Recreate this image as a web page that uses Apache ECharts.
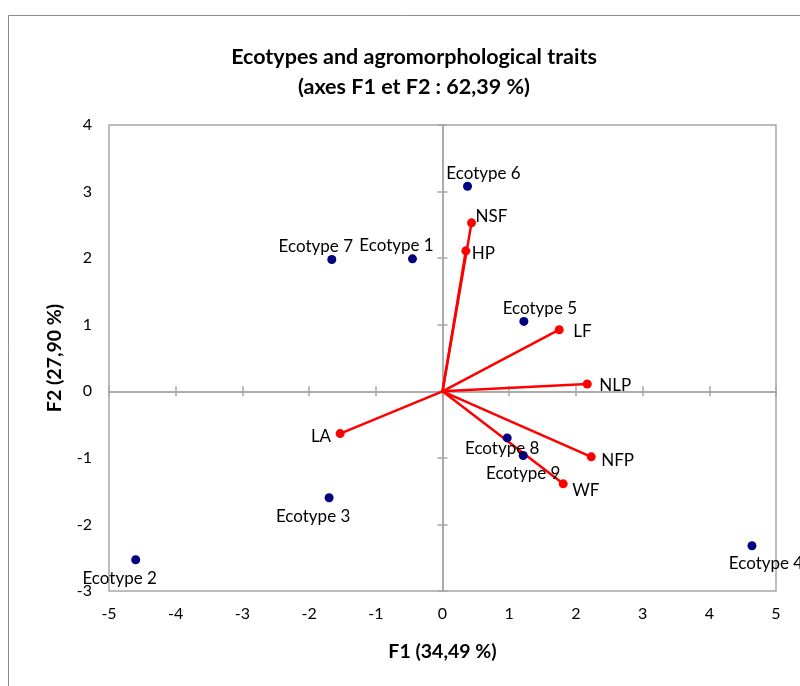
<!DOCTYPE html>
<html><head><meta charset="utf-8">
<script src="https://cdn.jsdelivr.net/npm/echarts@6/dist/echarts.min.js"></script>
<style>html,body{margin:0;padding:0;background:#fff}#c{width:800px;height:686px}</style>
</head><body><div id="c"></div>
<script>
// ---- data ----
const ecotypeNames = ['Ecotype 1','Ecotype 2','Ecotype 3','Ecotype 4','Ecotype 5','Ecotype 6','Ecotype 7','Ecotype 8','Ecotype 9'];
const ecotypeF1 = [-0.45, -4.60, -1.70, 4.64, 1.22, 0.375, -1.66, 0.97, 1.21];
const ecotypeF2 = [1.99, -2.53, -1.60, -2.32, 1.05, 3.08, 1.98, -0.70, -0.965];
const traitNames = ['NSF','HP','LF','NLP','NFP','WF','LA'];
const traitF1 = [0.435, 0.35, 1.75, 2.17, 2.23, 1.81, -1.535];
const traitF2 = [2.53, 2.11, 0.925, 0.11, -0.985, -1.39, -0.635];
const titleText = 'Ecotypes and agromorphological traits\n(axes F1 et F2 : 62,39 %)';
const xName = 'F1 (34,49 %)';
const yName = 'F2 (27,90 %)';

// ---- label placement (style only) ----
const ecoLabelOffset = {
  'Ecotype 1': [-16,-13], 'Ecotype 2': [-16,19], 'Ecotype 3': [-16,19], 'Ecotype 4': [14,18],
  'Ecotype 5': [16,-13], 'Ecotype 6': [16,-13], 'Ecotype 7': [-16,-13], 'Ecotype 8': [-5,11], 'Ecotype 9': [0,18]
};
const traitLabelPlace = {
  'NSF': ['left',[4,-6]], 'HP': ['left',[6,3]], 'LF': ['left',[14,2]], 'NLP': ['left',[12,2]],
  'NFP': ['left',[10,4]], 'WF': ['left',[9,7]], 'LA': ['right',[-9,3]]
};

const FONT = 'Lato, "Noto Sans", sans-serif';
const GRAY = '#a6a6a6';
const RED = '#ff0000';
const NAVY = '#000080';

function valAxis(min, max, extra) {
  return Object.assign({type:'value', min:min, max:max, interval:1, splitLine:{show:false}}, extra);
}
const zeroAxis = (inside) => ({
  axisLine:{show:true, onZero:true, onZeroAxisIndex:0, lineStyle:{color:GRAY, width:1.5}},
  axisTick:{show:true, inside:inside, length:5, lineStyle:{color:GRAY, width:1.5}},
  axisLabel:{show:false}
});

const series = [];
traitNames.forEach((n,i) => {
  series.push({type:'line', data:[[0,0],[traitF1[i], traitF2[i]]], showSymbol:false, symbol:'none',
    lineStyle:{color:RED, width:2.5, opacity:1}, silent:true, z:2, animation:false});
});
series.push({
  type:'scatter', symbolSize:9, itemStyle:{color:RED, opacity:1}, z:3, animation:false,
  data: traitNames.map((n,i) => ({name:n, value:[traitF1[i], traitF2[i]],
    label:{show:true, formatter:n, position:'inside', align:traitLabelPlace[n][0], verticalAlign:'middle',
      offset:traitLabelPlace[n][1], color:'#000', fontSize:17, fontFamily:FONT}}))
});
series.push({
  type:'scatter', symbolSize:9, itemStyle:{color:NAVY, opacity:1}, z:4, animation:false,
  data: ecotypeNames.map((n,i) => ({name:n, value:[ecotypeF1[i], ecotypeF2[i]],
    label:{show:true, formatter:n, position:'inside', align:'center', verticalAlign:'middle',
      offset:ecoLabelOffset[n], color:'#000', fontSize:17, fontFamily:FONT}}))
});

const chart = echarts.init(document.getElementById('c'), null, {renderer:'canvas'});
chart.setOption({
  animation:false,
  backgroundColor:'#fff',
  title:{text:titleText, left:409, top:37, textAlign:'center',
    textStyle:{fontFamily:FONT, fontWeight:'bold', fontSize:21.5, lineHeight:30, color:'#000'}},
  graphic:[{type:'rect', left:6, top:13, shape:{x:0,y:0,width:1000,height:1000},
    style:{fill:'none', stroke:'#8c8c8c', lineWidth:1}, silent:true}],
  grid:{left:109, top:125, right:24, bottom:95, show:true, borderColor:GRAY, borderWidth:1.5, backgroundColor:'transparent'},
  xAxis:[
    valAxis(-5,5,{position:'bottom', axisLine:{show:false, onZero:false}, axisTick:{show:false},
      axisLabel:{margin:15, color:'#000', fontSize:16, fontFamily:FONT},
      name:xName, nameLocation:'middle', nameGap:51,
      nameTextStyle:{fontFamily:FONT, fontWeight:'bold', fontSize:19.5, color:'#000'}}),
    valAxis(-5,5,Object.assign({position:'bottom'}, zeroAxis(false))),
    valAxis(-5,5,Object.assign({position:'bottom'}, zeroAxis(true)))
  ],
  yAxis:[
    valAxis(-3,4,{position:'left', axisLine:{show:false, onZero:false}, axisTick:{show:false},
      axisLabel:{margin:17, color:'#000', fontSize:16, fontFamily:FONT},
      name:yName, nameLocation:'middle', nameGap:44, nameRotate:90,
      nameTextStyle:{fontFamily:FONT, fontWeight:'bold', fontSize:19.5, color:'#000'}}),
    valAxis(-3,4,Object.assign({position:'left'}, zeroAxis(false))),
    valAxis(-3,4,Object.assign({position:'left'}, zeroAxis(true)))
  ],
  series: series
});
</script></body></html>
